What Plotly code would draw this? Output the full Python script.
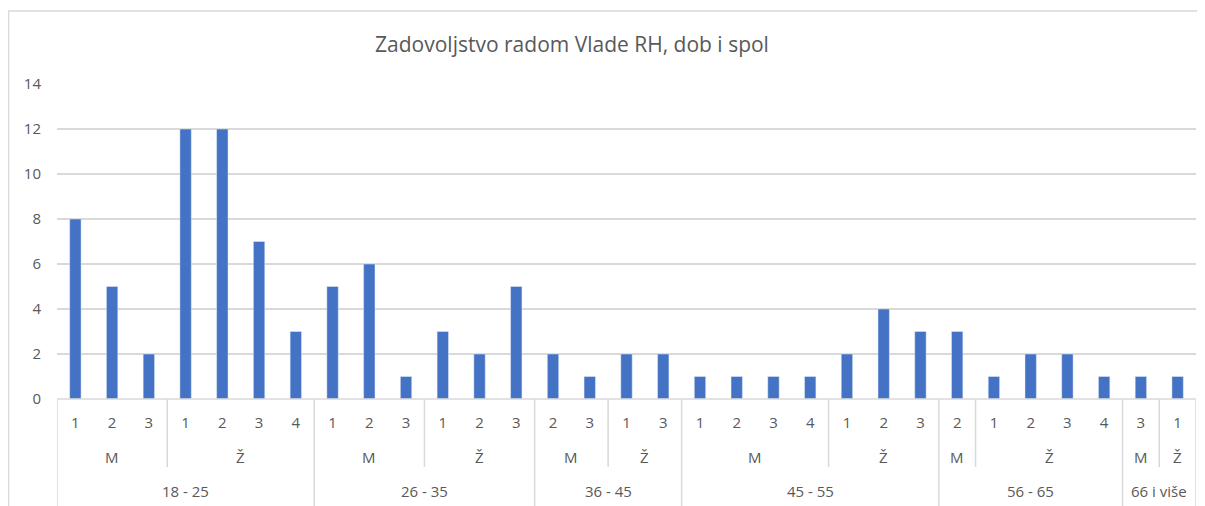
import plotly.graph_objects as go

# leaf categories (rating), middle level (gender), top level (age group)
AGE_GROUPS = ["18 - 25", "26 - 35", "36 - 45", "45 - 55", "56 - 65", "66 i više"]
GENDERS = [["M", "Ž"], ["M", "Ž"], ["M", "Ž"], ["M", "Ž"], ["M", "Ž"], ["M", "Ž"]]
RATINGS = [
    [["1", "2", "3"], ["1", "2", "3", "4"]],
    [["1", "2", "3"], ["1", "2", "3"]],
    [["2", "3"], ["1", "3"]],
    [["1", "2", "3", "4"], ["1", "2", "3"]],
    [["2"], ["1", "2", "3", "4"]],
    [["3"], ["1"]],
]
VALUES = [
    [[8, 5, 2], [12, 12, 7, 3]],
    [[5, 6, 1], [3, 2, 5]],
    [[2, 1], [2, 2]],
    [[1, 1, 1, 1], [2, 4, 3]],
    [[3], [1, 2, 2, 1]],
    [[1], [1]],
]

BAR = "#4472c4"
INK = "#595959"
LINE = "#d9d9d9"
FONT = "Open Sans, Lato, sans-serif"

# page body has an 8px margin, so work in screen pixels and shift
OFF = 8
W, H = 1205, 506
PL, PR, PT, PB = 57, 1196, 84, 399  # plot area on screen
PW, PH = PR - PL, PB - PT


def py(sy):
    return (PB - sy) / PH


def px(sx):
    return (sx - PL) / PW


ys, leaf_labels = [], []
annotations, shapes = [], []
idx = 0
for a, age in enumerate(AGE_GROUPS):
    age_start = idx
    for g, gender in enumerate(GENDERS[a]):
        g_start = idx
        for r, v in zip(RATINGS[a][g], VALUES[a][g]):
            ys.append(v)
            leaf_labels.append(r)
            idx += 1
        annotations.append(dict(x=(g_start + idx - 1) / 2, y=py(457), xref="x", yref="paper",
                                xanchor="center", yanchor="middle",
                                text=gender, showarrow=False,
                                font=dict(size=15, color=INK, family=FONT)))
        if g == 0:
            shapes.append(dict(type="line", xref="x", yref="paper", x0=idx - 0.5, x1=idx - 0.5,
                               y0=0, y1=py(467), line=dict(color=LINE, width=1.5)))
    annotations.append(dict(x=(age_start + idx - 1) / 2, y=py(491), xref="x", yref="paper",
                            xanchor="center", yanchor="middle",
                            text=age, showarrow=False,
                            font=dict(size=15, color=INK, family=FONT)))
    shapes.append(dict(type="line", xref="x", yref="paper", x0=age_start - 0.5, x1=age_start - 0.5,
                       y0=0, y1=py(515), line=dict(color=LINE, width=1.5)))
shapes.append(dict(type="line", xref="x", yref="paper", x0=idx - 0.5, x1=idx - 0.5,
                   y0=0, y1=py(515), line=dict(color=LINE, width=1.5)))
shapes.append(dict(type="line", xref="x", yref="paper", x0=-0.5, x1=idx - 0.5,
                   y0=0, y1=0, line=dict(color=LINE, width=1.5)))
# chart area border
shapes.append(dict(type="rect", xref="paper", yref="paper",
                   x0=px(8.5), x1=px(1215), y0=py(520), y1=py(11),
                   line=dict(color=LINE, width=1.5), layer="below"))

xs = list(range(len(ys)))

fig = go.Figure(go.Bar(x=xs, y=ys, marker_color=BAR, width=0.31,
                       hovertemplate="%{y}<extra></extra>"))

fig.update_layout(
    width=W, height=H,
    paper_bgcolor="white", plot_bgcolor="white",
    margin=dict(l=PL - OFF, r=W - (PR - OFF), t=PT - OFF, b=H - (PB - OFF), pad=0),
    title=dict(text="Zadovoljstvo radom Vlade RH, dob i spol",
               x=(572 - OFF) / W, xanchor="center",
               y=1 - (45 - OFF) / H, yanchor="middle",
               font=dict(size=21, color=INK, family=FONT)),
    font=dict(family=FONT, color=INK),
    showlegend=False,
    xaxis=dict(range=[-0.5, len(ys) - 0.5], tickvals=xs, ticktext=leaf_labels,
               tickfont=dict(size=15, color=INK), showgrid=False, zeroline=False,
               showline=False, ticks="", ticklabelstandoff=13, fixedrange=True),
    yaxis=dict(range=[0, 14], dtick=2, gridcolor=LINE, gridwidth=1.5, zeroline=False,
               showline=False, tickfont=dict(size=15, color=INK), ticks="",
               ticklabelstandoff=15, fixedrange=True),
    annotations=annotations,
    shapes=shapes,
)

fig.write_html("out.html")
